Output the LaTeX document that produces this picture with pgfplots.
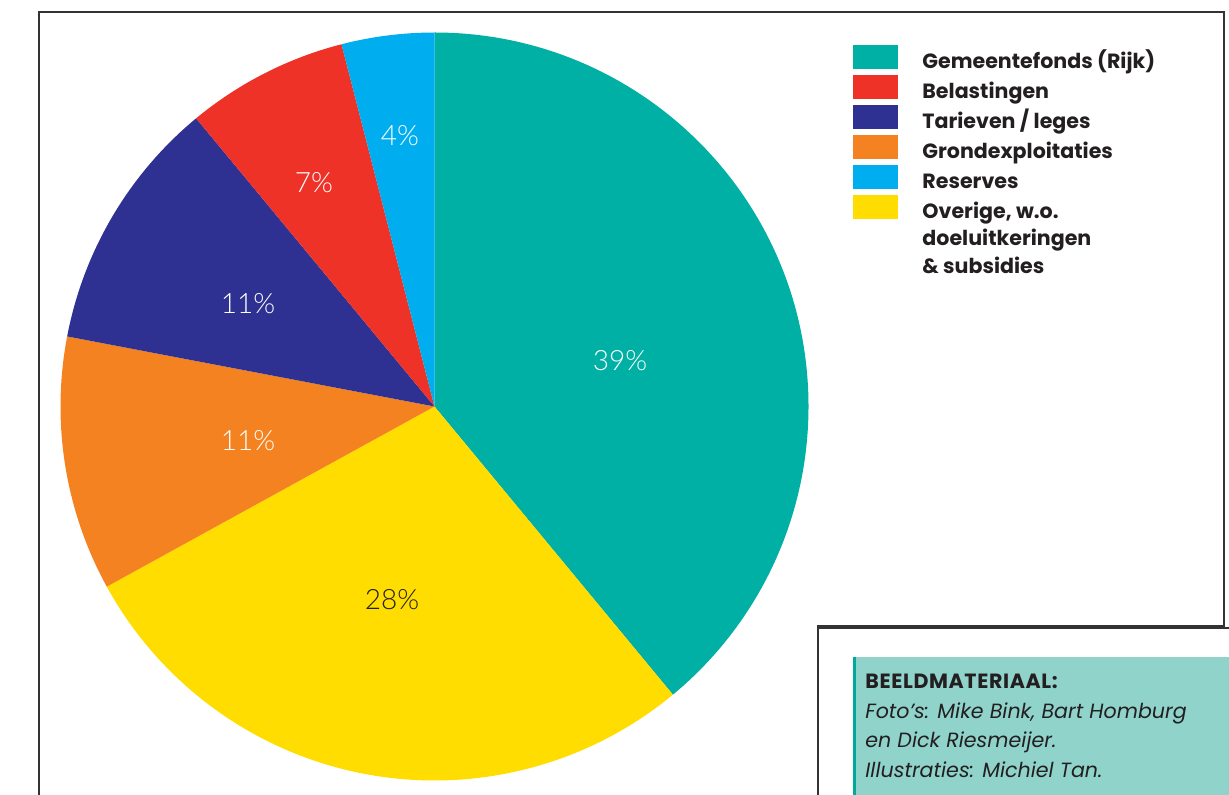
\documentclass[border=0pt]{standalone}
\usepackage{fontspec}
\setmainfont{Poppins}
\newfontfamily\lightfont{Lato Light}
\usepackage{pgfplots}
\pgfplotsset{compat=1.18}

\definecolor{cTeal}{HTML}{00B0A4}
\definecolor{cRed}{HTML}{EE3228}
\definecolor{cNavy}{HTML}{2E3192}
\definecolor{cOrange}{HTML}{F58220}
\definecolor{cCyan}{HTML}{00AEEF}
\definecolor{cYellow}{HTML}{FFDD00}
\definecolor{boxfill}{HTML}{8FD3CB}
\definecolor{boxedge}{HTML}{00A99D}
\definecolor{ink}{HTML}{231F20}

% slice: cumulative percent before, percent, colour (clockwise from the top)
\newcommand\slice[3]{\fill[#3] (axis cs:434.5,406.5) -- ++({90-3.6*#1}:187pt)
  arc[start angle={90-3.6*#1}, delta angle={-3.6*#2}, radius=187pt] -- cycle;}

\begin{document}
\begin{tikzpicture}
\useasboundingbox (0,0) rectangle (614.5pt,397.5pt);
\begin{axis}[
    at={(0,0)}, anchor=south west,
    x=0.5pt, y=0.5pt,
    xmin=0, xmax=1229, ymin=0, ymax=795, y dir=reverse,
    hide axis, clip=false,
    legend image code/.code={\fill[#1] (0pt,-2.8pt) rectangle (22.5pt,8.8pt);},
    legend style={draw=none, fill=none, at={(axis cs:853,45)}, anchor=north west,
        font=\bfseries\fontsize{10.3}{12}\selectfont, text=ink,
        column sep=12pt, row sep=-1.2pt, inner sep=0pt,
        cells={anchor=west},
        nodes={inner sep=0pt, text height=10.3pt, text depth=4.5pt}},
]
% frame of the page
\draw[line width=1.2pt, black!80] (axis cs:39,795) -- (axis cs:39,12) -- (axis cs:1224,12)
  -- (axis cs:1224,626) -- (axis cs:818,626) -- (axis cs:818,795);

% pie
\slice{0}{39}{cTeal}
\slice{39}{28}{cYellow}
\slice{67}{11}{cOrange}
\slice{78}{11}{cNavy}
\slice{89}{7}{cRed}
\slice{96}{4}{cCyan}

% percent labels
\begin{scope}[every node/.style={font=\lightfont\fontsize{14}{16}\selectfont, text=white}]
\node at (axis cs:620,361) {39\%};
\node[text=ink] at (axis cs:392,600) {28\%};
\node at (axis cs:248,441) {11\%};
\node at (axis cs:248,304) {11\%};
\node at (axis cs:314,183) {7\%};
\node at (axis cs:400,136) {4\%};
\end{scope}

% legend
\addlegendimage{fill=cTeal, draw=none}   \addlegendentry{Gemeentefonds (Rijk)}
\addlegendimage{fill=cRed, draw=none}    \addlegendentry{Belastingen}
\addlegendimage{fill=cNavy, draw=none}   \addlegendentry{Tarieven / leges}
\addlegendimage{fill=cOrange, draw=none} \addlegendentry{Grondexploitaties}
\addlegendimage{fill=cCyan, draw=none}   \addlegendentry{Reserves}
\addlegendimage{fill=cYellow, draw=none} \addlegendentry{Overige, w.o.}
\addlegendimage{empty legend} \addlegendentry{doeluitkeringen}
\addlegendimage{empty legend} \addlegendentry{\& subsidies}

% credits box
\draw[line width=1.2pt, black!80] (axis cs:1229,628) -- (axis cs:819,628);
\fill[boxfill] (axis cs:853,657) rectangle (axis cs:1229,795);
\fill[boxedge] (axis cs:853,657) rectangle (axis cs:856,795);
\begin{scope}[every node/.style={anchor=base west, inner sep=0pt, text=ink,
    font=\fontsize{10.3}{12}\selectfont}]
\node at (axis cs:865,688) {\bfseries\addfontfeature{LetterSpace=3}BEELDMATERIAAL:};
\node at (axis cs:865,718) {\itshape Foto’s: Mike Bink, Bart Homburg};
\node at (axis cs:865,747) {\itshape en Dick Riesmeijer.};
\node at (axis cs:865,777) {\itshape Illustraties: Michiel Tan.};
\end{scope}
\end{axis}
\end{tikzpicture}
\end{document}
